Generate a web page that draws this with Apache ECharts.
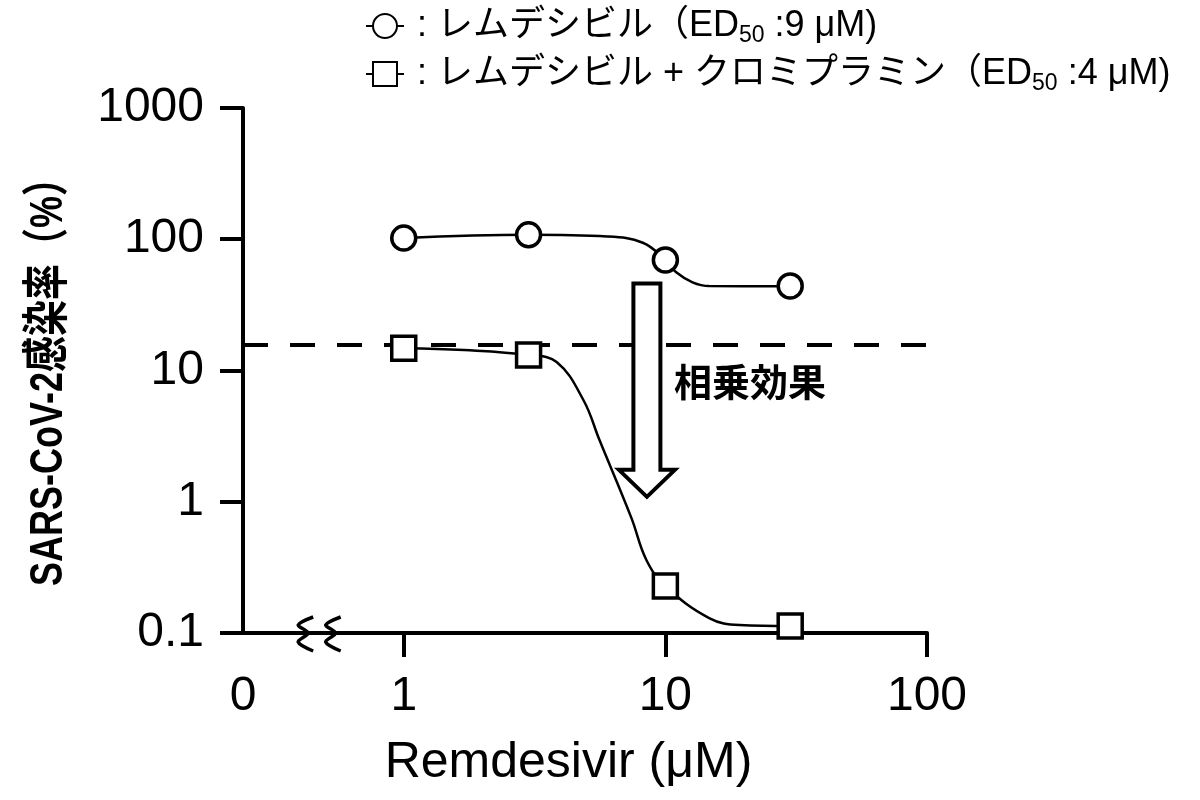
<!DOCTYPE html>
<html><head><meta charset="utf-8">
<script src="https://cdn.jsdelivr.net/npm/echarts@6/dist/echarts.min.js"></script>
<style>html,body{margin:0;padding:0;background:#fff}#c{width:1200px;height:800px}</style>
</head><body><div id="c"></div>
<script>
// ---- data ----
const concentrations = [1, 3, 10, 30];                 // µM
const remdesivirOnly = [102, 108, 69.5, 44];           // % infection
const remdesivirClomipramine = [14.8, 13.1, 0.228, 0.113];
// fitted curves
const fitOnlyX = [6.0, 8.2, 11.0, 12.7, 14.7, 26.5];
const fitOnlyY = [105, 94, 56, 47, 44, 43.8];
const fitComboX = [1.7, 3.84, 4.86, 5.6, 7.42, 8.46, 14.7, 19.2];
const fitComboY = [14.3, 11.6, 5.96, 2.95, 0.75, 0.36, 0.13, 0.115];
const seriesNames = ['レムデシビル', 'レムデシビル + クロミプラミン'];
const ed50 = ['9', '4'];
const xTickValues = [1, 10, 100];
const xTickLabels = ['0', '1', '10', '100'];
const yTickLabels = ['0.1', '1', '10', '100', '1000'];
const xAxisStart = 0.243;   // position labelled "0" (broken axis)
const dashedRef = 15.8;     // dashed reference level
const arrowX = 8.5, arrowTop = 46, arrowTip = 1.09;
const synergyLabelPos = [10.8, 8.3];
const breakXs = [0.42, 0.535];

const FONT = '"Liberation Sans", "Noto Sans CJK JP", sans-serif';

function buildData(xs, ys, fx, fy) {
  const arr = xs.map((x, i) => ({ value: [x, ys[i]] }));
  fx.forEach((x, i) => arr.push({ value: [x, fy[i]], symbol: 'none' }));
  arr.sort((a, b) => a.value[0] - b.value[0]);
  return arr;
}

const chart = echarts.init(document.getElementById('c'), null, { renderer: 'canvas' });

const commonLine = {
  type: 'line', smooth: 0.4, symbolSize: 24,
  showAllSymbol: true, z: 5,
  lineStyle: { color: '#000', width: 2.5 },
  itemStyle: { color: '#fff', borderColor: '#000', borderWidth: 3.5 },
  emphasis: { disabled: true }
};

chart.setOption({
  animation: false,
  backgroundColor: '#fff',
  grid: { left: 243, right: 273, top: 108, bottom: 167, containLabel: false, outerBoundsMode: 'none' },
  legend: {
    orient: 'vertical', left: 360, top: 0, itemGap: 6, itemWidth: 38, itemHeight: 30,
    selectedMode: false,
    data: seriesNames,
    formatter: function (name) {
      const i = seriesNames.indexOf(name);
      return ': ' + name + '（ED{s|50} :' + ed50[i] + ' μM)';
    },
    textStyle: {
      fontSize: 36, color: '#000', fontFamily: FONT, lineHeight: 42, padding: [0, 0, 0, 8],
      rich: { s: { fontSize: 23, fontFamily: FONT, color: '#000', verticalAlign: 'bottom', lineHeight: 31 } }
    }
  },
  xAxis: {
    type: 'log', logBase: 10, min: xAxisStart, max: 100,
    axisLine: { lineStyle: { color: '#000', width: 4 } },
    axisTick: { length: 24, lineStyle: { color: '#000', width: 4 }, customValues: xTickValues },
    splitLine: { show: false },
    axisLabel: {
      fontSize: 48, color: '#000', margin: 40, fontFamily: FONT,
      formatter: function (v) {
        const k = v < 0.5 ? 0 : Math.round(Math.log10(v)) + 1;
        return xTickLabels[k];
      }
    },
    name: 'Remdesivir (μM)', nameLocation: 'middle', nameGap: 105,
    nameTextStyle: { fontSize: 50, color: '#000', fontFamily: FONT, padding: [0, 33, 0, 0] }
  },
  yAxis: {
    type: 'log', logBase: 10, min: 0.1, max: 1000,
    axisLine: { show: true, lineStyle: { color: '#000', width: 4 } },
    axisTick: { show: true, length: 23, lineStyle: { color: '#000', width: 4 } },
    splitLine: { show: false },
    axisLabel: {
      fontSize: 48, color: '#000', margin: 39, fontFamily: FONT,
      formatter: function (v) {
        const k = Math.round(Math.log10(v)) + 1;
        return yTickLabels[k];
      }
    }
  },
  series: [
    Object.assign({}, commonLine, {
      name: seriesNames[0], symbol: 'circle',
      data: buildData(concentrations, remdesivirOnly, fitOnlyX, fitOnlyY)
    }),
    Object.assign({}, commonLine, {
      name: seriesNames[1], symbol: 'rect',
      data: buildData(concentrations, remdesivirClomipramine, fitComboX, fitComboY),
      markLine: {
        silent: true, symbol: 'none', label: { show: false }, z: 1,
        lineStyle: { color: '#000', width: 4, type: [25, 22] },
        data: [{ yAxis: dashedRef }]
      }
    })
  ]
});

function px(x, y) { return chart.convertToPixel({ gridIndex: 0 }, [x, y]); }

const arrowTopPx = px(arrowX, arrowTop), arrowTipPx = px(arrowX, arrowTip);
const acx = arrowTopPx[0], sh = 13.5, hh = 28, hl = 27;
const arrowPts = [
  [acx - sh, arrowTopPx[1]], [acx + sh, arrowTopPx[1]], [acx + sh, arrowTipPx[1] - hl], [acx + hh, arrowTipPx[1] - hl],
  [acx, arrowTipPx[1]], [acx - hh, arrowTipPx[1] - hl], [acx - sh, arrowTipPx[1] - hl]
];
const lab = px(synergyLabelPos[0], synergyLabelPos[1]);

const graphics = [
  { type: 'polygon', z: 50, shape: { points: arrowPts },
    style: { fill: '#fff', stroke: '#000', lineWidth: 4, lineJoin: 'miter' } },
  { type: 'text', z: 50, x: lab[0], y: lab[1],
    style: { text: '相乗効果', font: 'bold 38px "Noto Sans CJK JP", sans-serif', fill: '#000',
             textAlign: 'left', textVerticalAlign: 'middle' } },
  { type: 'text', z: 50, x: 49.5, y: 373, rotation: Math.PI / 2, scaleY: 1.3,
    style: { text: 'SARS-CoV-2感染率（%）', font: 'bold 36px "Liberation Sans", "Noto Sans CJK JP", sans-serif',
             fill: '#000', textAlign: 'center', textVerticalAlign: 'middle' } }
];
breakXs.forEach(function (bx) {
  const p = px(bx, 0.1);
  const rel = [[8, -16], [-7, -8], [3, 0], [-7, 9], [8, 18]];
  graphics.push({ type: 'polyline', z: 50,
    shape: { points: rel.map(r => [p[0] + r[0], p[1] + r[1]]), smooth: 0.3 },
    style: { stroke: '#000', lineWidth: 3.5, fill: null } });
});
chart.setOption({ graphic: graphics });
</script>
</body></html>
